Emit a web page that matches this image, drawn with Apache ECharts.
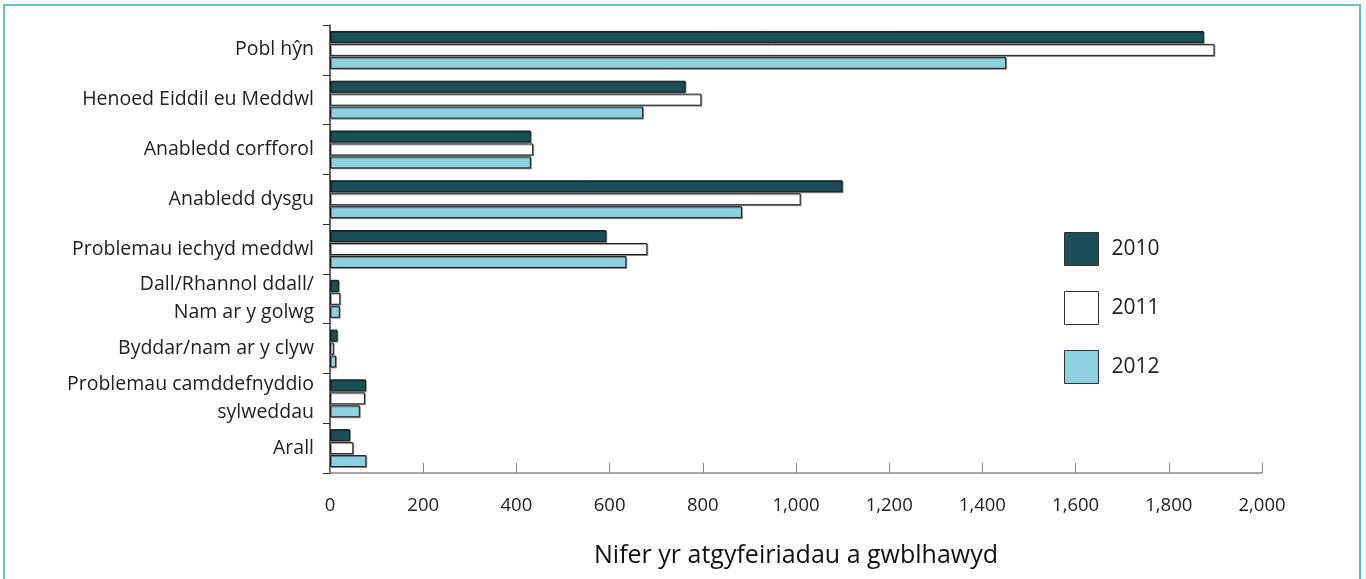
<!DOCTYPE html>
<html>
<head>
<meta charset="utf-8">
<script src="https://cdn.jsdelivr.net/npm/echarts@6/dist/echarts.min.js"></script>
<style>
html,body{margin:0;padding:0;background:#fff;}
#chart{width:1366px;height:579px;}
</style>
</head>
<body>
<div id="chart"></div>
<script>
const categories = [
  'Pobl hŷn',
  'Henoed Eiddil eu Meddwl',
  'Anabledd corfforol',
  'Anabledd dysgu',
  'Problemau iechyd meddwl',
  'Dall/Rhannol ddall/\nNam ar y golwg',
  'Byddar/nam ar y clyw',
  'Problemau camddefnyddio\nsylweddau',
  'Arall'
];
const seriesNames = ['2010', '2011', '2012'];
const values2010 = [1875, 763, 431, 1100, 593, 19, 16, 77, 43];
const values2011 = [1898, 797, 436, 1010, 681, 22, 8, 75, 50];
const values2012 = [1451, 672, 431, 884, 636, 21, 13, 64, 78];
const xTicks = [0, 200, 400, 600, 800, 1000, 1200, 1400, 1600, 1800, 2000];
const axisTitle = 'Nifer yr atgyfeiriadau a gwblhawyd';

const colors = ['#1b4f58', '#ffffff', '#8dd0e0'];
const font = '"Open Sans", "Noto Sans", sans-serif';

const chart = echarts.init(document.getElementById('chart'), null, {renderer: 'canvas'});

function mkSeries(name, data, i) {
  return {
    name: name,
    type: 'bar',
    data: data,
    barWidth: 12,
    barGap: '8%',
    itemStyle: {
      color: colors[i],
      borderColor: '#1a1a1a',
      borderWidth: 1,
      shadowColor: 'rgba(0,0,0,0.35)',
      shadowOffsetX: 1,
      shadowOffsetY: 1,
      shadowBlur: 0
    },
    emphasis: {disabled: true}
  };
}

chart.setOption({
  animation: false,
  backgroundColor: '#ffffff',
  graphic: [{
    type: 'rect',
    shape: {x: 4, y: 5, width: 1356, height: 600},
    style: {fill: 'none', stroke: '#6bbccc', lineWidth: 2},
    silent: true,
    z: -1
  }],
  grid: {left: 330, right: 104, top: 25, bottom: 106, containLabel: false},
  legend: {
    orient: 'vertical',
    left: 1064,
    top: 232,
    padding: 0,
    itemWidth: 34,
    itemHeight: 33,
    itemGap: 25,
    icon: 'rect',
    textStyle: {fontFamily: font, fontSize: 21, color: '#222', padding: [0, 0, 0, 8]},
    data: seriesNames.map((n, i) => ({
      name: n,
      itemStyle: {color: colors[i], borderColor: '#333', borderWidth: 1, shadowBlur: 0, shadowOffsetX: 0, shadowOffsetY: 0}
    }))
  },
  xAxis: {
    type: 'value',
    min: 0,
    max: 2000,
    interval: 200,
    name: axisTitle,
    nameLocation: 'middle',
    nameGap: 70,
    nameTextStyle: {fontFamily: font, fontSize: 25, color: '#111'},
    axisLine: {show: true, lineStyle: {color: '#888', width: 1.5}},
    axisTick: {show: true, inside: true, length: 10, lineStyle: {color: '#888'}},
    axisLabel: {
      fontFamily: font, fontSize: 18.5, color: '#222', margin: 23,
      formatter: v => v.toLocaleString('en-US')
    },
    splitLine: {show: false}
  },
  yAxis: {
    type: 'category',
    data: categories,
    inverse: true,
    axisLine: {show: true, lineStyle: {color: '#333', width: 1.5}},
    axisTick: {show: true, length: 7, lineStyle: {color: '#333'}},
    axisLabel: {fontFamily: font, fontSize: 19.5, color: '#222', margin: 16, lineHeight: 28},
    splitLine: {show: false}
  },
  series: [
    mkSeries(seriesNames[0], values2010, 0),
    mkSeries(seriesNames[1], values2011, 1),
    mkSeries(seriesNames[2], values2012, 2)
  ]
});
</script>
</body>
</html>
